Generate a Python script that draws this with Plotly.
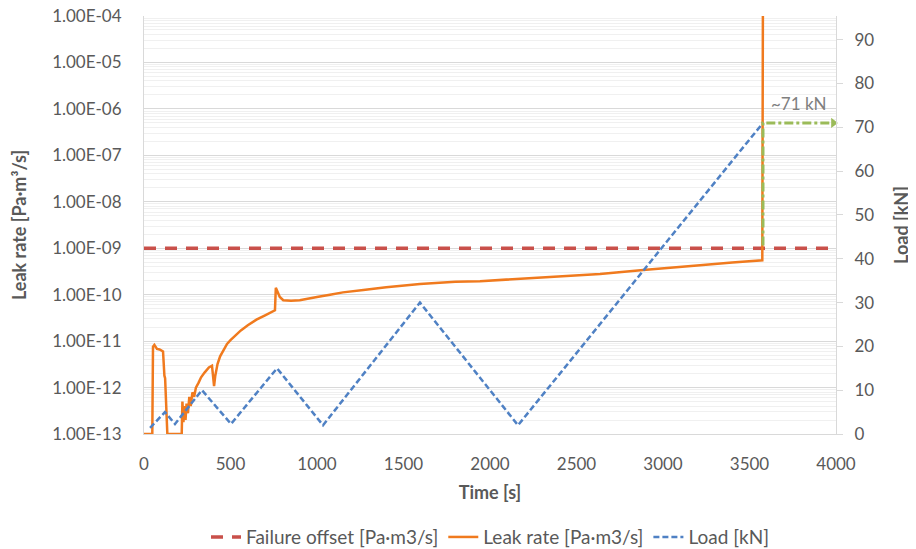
import plotly.graph_objects as go
from plotly.subplots import make_subplots

# ---------------- data ----------------
leak_time = [0, 48, 52, 60, 75, 90, 110, 113, 118, 122, 128, 135, 218, 222, 228, 234, 240, 246,
             254, 262, 270, 280, 290, 300, 315, 330, 350, 375, 393, 398, 405, 412, 425, 440,
             460, 480, 500, 530, 560, 600, 650, 700, 757, 762, 768, 785, 805, 850, 900, 950,
             1000, 1075, 1150, 1268, 1400, 1595, 1800, 1942, 2231, 2450, 2636, 2886, 3000,
             3214, 3400, 3570, 3574, 3578]
leak_rate = [1e-13, 1e-13, 7.6e-12, 8.3e-12, 6.8e-12, 6.6e-12, 6.0e-12, 2.8e-12, 1.8e-12, 1.6e-12,
             3.2e-13, 1e-13, 1e-13, 5.0e-13, 1.8e-13, 4.0e-13, 2.0e-13, 4.5e-13,
             2.8e-13, 6.3e-13, 4.0e-13, 7.9e-13, 6.3e-13, 1.0e-12, 1.26e-12, 1.66e-12, 2.1e-12,
             2.7e-12, 2.95e-12, 2.0e-12, 1.07e-12, 1.8e-12, 3.2e-12, 4.7e-12,
             6.6e-12, 8.7e-12, 1.05e-11, 1.35e-11, 1.7e-11, 2.2e-11, 2.9e-11, 3.6e-11, 4.6e-11,
             1.41e-10, 1.26e-10, 8.9e-11, 7.6e-11, 7.4e-11, 7.6e-11, 8.1e-11,
             8.9e-11, 1.0e-10, 1.12e-10, 1.26e-10, 1.45e-10, 1.7e-10, 1.9e-10, 1.95e-10, 2.24e-10,
             2.5e-10, 2.8e-10, 3.4e-10, 3.65e-10,
             4.3e-10, 4.9e-10, 5.4e-10, 5.5e-10, 1e-3]

failure_time = [0, 4000]
failure_rate = [1e-9, 1e-9]

load_time = [35, 121, 179, 335, 503, 769, 1035, 1595, 2162, 3578]
load_kn = [1.4, 5, 2.3, 10, 2.3, 15, 2, 30, 2, 71]

marker_time = [3578, 3578, 3985]
marker_kn = [43, 71, 71]
marker_label = "~71 kN"

y_tickvals = [1e-13, 1e-12, 1e-11, 1e-10, 1e-9, 1e-8, 1e-7, 1e-6, 1e-5, 1e-4]
y_ticktext = ["1.00E-13", "1.00E-12", "1.00E-11", "1.00E-10", "1.00E-09",
              "1.00E-08", "1.00E-07", "1.00E-06", "1.00E-05", "1.00E-04"]

# ---------------- figure ----------------
FONT = "Lato"
GRAY = "#595959"
TICK = 17

fig = make_subplots(specs=[[{"secondary_y": True}]])

fig.add_trace(go.Scatter(x=failure_time, y=failure_rate, mode="lines",
                         name="Failure offset [Pa·m3/s]",
                         line=dict(color="#C9504A", width=3.5, dash="12px,9px")),
              secondary_y=False)
fig.add_trace(go.Scatter(x=leak_time, y=leak_rate, mode="lines",
                         name="Leak rate [Pa·m3/s]",
                         line=dict(color="#F07A1E", width=2.5)),
              secondary_y=False)
fig.add_trace(go.Scatter(x=load_time, y=load_kn, mode="lines",
                         name="Load [kN]",
                         line=dict(color="#4F81C4", width=2.5, dash="6px,3px")),
              secondary_y=True)
fig.add_trace(go.Scatter(x=marker_time, y=marker_kn, mode="lines",
                         showlegend=False, hoverinfo="skip",
                         line=dict(color="#9BBB59", width=3, dash="dashdot")),
              secondary_y=True)
fig.add_trace(go.Scatter(x=[marker_time[-1]], y=[marker_kn[-1]], mode="markers",
                         showlegend=False, hoverinfo="skip", cliponaxis=False,
                         marker=dict(symbol="triangle-right", size=9, color="#9BBB59")),
              secondary_y=True)

fig.add_annotation(x=3610, y=75.5, xref="x", yref="y2", text=marker_label,
                   showarrow=False, xanchor="left", yanchor="middle",
                   font=dict(family=FONT, size=17, color="#7F7F7F"))

# the page body has an 8px margin, so the figure is 8px smaller than the window
fig.update_layout(
    width=908, height=541,
    margin=dict(l=136, r=80, t=8, b=115, autoexpand=False),
    paper_bgcolor="white", plot_bgcolor="white",
    font=dict(family=FONT, size=TICK, color=GRAY),
    legend=dict(orientation="h", x=0.5, xanchor="center",
                yref="container", y=0.022, yanchor="middle",
                font=dict(family=FONT, size=19, color=GRAY), itemwidth=30,
                tracegroupgap=0),
    showlegend=True,
)

fig.update_xaxes(domain=[0, 1], range=[0, 4000], dtick=500, tick0=0, showgrid=False,
                 automargin=False,
                 showline=True, linecolor="#D9D9D9", linewidth=1, ticks="",
                 ticklabelstandoff=15, zeroline=False,
                 title=dict(text="<b>Time [s]</b>", standoff=12,
                            font=dict(family=FONT, size=18, color=GRAY)),
                 tickfont=dict(family=FONT, size=TICK, color=GRAY))

fig.update_yaxes(type="log", range=[-13, -4], tickmode="array", automargin=False,
                 tickvals=y_tickvals, ticktext=y_ticktext, ticklabeloverflow="allow",
                 showgrid=True, gridcolor="#D9D9D9", gridwidth=1,
                 minor=dict(dtick="D1", showgrid=True, gridcolor="#F0F0F0", ticks=""),
                 showline=True, linecolor="#D9D9D9", linewidth=1, ticks="",
                 ticklabelstandoff=18, zeroline=False,
                 title=dict(text="<b>Leak rate [Pa·m³/s]</b>", standoff=22,
                            font=dict(family=FONT, size=18, color=GRAY)),
                 tickfont=dict(family=FONT, size=TICK, color=GRAY),
                 secondary_y=False)

fig.update_yaxes(range=[0, 95.4], tickmode="array", automargin=False,
                 tickvals=[0, 10, 20, 30, 40, 50, 60, 70, 80, 90],
                 showgrid=False, showline=True, linecolor="#D9D9D9", linewidth=1,
                 ticks="outside", ticklen=6, tickcolor="#D9D9D9",
                 ticklabelstandoff=8, zeroline=False,
                 title=dict(text="<b>Load [kN]</b>", standoff=22,
                            font=dict(family=FONT, size=18, color=GRAY)),
                 tickfont=dict(family=FONT, size=TICK, color=GRAY),
                 secondary_y=True)

fig.write_html("out.html")
